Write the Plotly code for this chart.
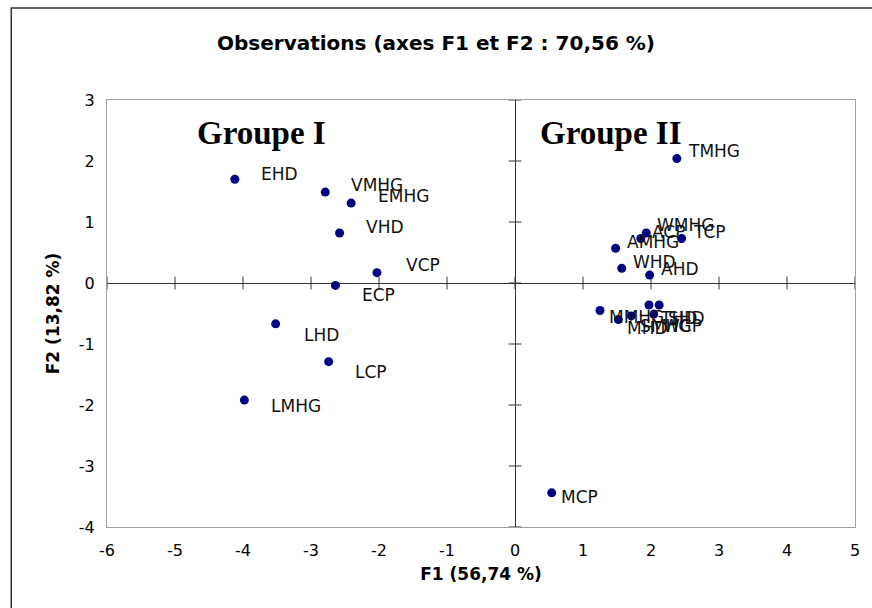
import plotly.graph_objects as go

# Observation scores on the first two factorial axes
names = ["EHD", "VMHG", "EMHG", "VHD", "VCP", "ECP", "LHD", "LCP", "LMHG",
         "TMHG", "WMHG", "ACP", "TCP", "AMHG", "WHD", "AHD",
         "MMHG", "THD", "SHD", "MHD", "SMHG", "WCP", "MCP"]
f1 = [-4.12, -2.79, -2.41, -2.58, -2.03, -2.64, -3.52, -2.74, -3.98,
      2.38, 1.93, 1.85, 2.45, 1.48, 1.57, 1.98,
      1.25, 1.97, 2.12, 1.52, 1.71, 2.04, 0.54]
f2 = [1.70, 1.49, 1.31, 0.82, 0.17, -0.04, -0.67, -1.29, -1.92,
      2.04, 0.82, 0.73, 0.73, 0.57, 0.24, 0.13,
      -0.45, -0.36, -0.36, -0.60, -0.54, -0.51, -3.44]

x_ticks = list(range(-6, 6))
y_ticks = list(range(-4, 4))
x_tick_text = [str(t) for t in x_ticks]
y_tick_text = [str(t) for t in y_ticks]

# label placement (pixels right / down of each point)
label_shift = {
    "EHD": (24, -5), "VMHG": (24, -7), "EMHG": (25, -7), "VHD": (24, -6),
    "VCP": (27, -8), "ECP": (25, 10), "LHD": (26, 11), "LCP": (24, 10),
    "LMHG": (25, 6), "TMHG": (9, -8), "WMHG": (9, -8), "ACP": (9, -6),
    "TCP": (9, -6), "AMHG": (9, -6), "WHD": (9, -6), "AHD": (9, -6),
    "MMHG": (7, 7), "THD": (9, 13), "SHD": (7, 13), "MHD": (7, 8),
    "SMHG": (7, 10), "WCP": (7, 12), "MCP": (7, 4),
}

fig = go.Figure()

# ticks drawn across the two central axes
fig.add_trace(go.Scatter(
    x=x_ticks, y=[0] * len(x_ticks), mode="markers",
    marker=dict(symbol="line-ns", size=9, line=dict(color="#333333", width=1)),
    hoverinfo="skip", showlegend=False))
fig.add_trace(go.Scatter(
    x=[0] * len(y_ticks), y=y_ticks, mode="markers",
    marker=dict(symbol="line-ew", size=9, line=dict(color="#333333", width=1)),
    hoverinfo="skip", showlegend=False))

fig.add_trace(go.Scatter(
    x=f1, y=f2, mode="markers", text=names,
    marker=dict(color="#000080", size=9, line=dict(width=0)),
    showlegend=False))

label_font = dict(family="DejaVu Sans", size=17, color="#111111")
for n, x, y in zip(names, f1, f2):
    dx, dy = label_shift[n]
    fig.add_annotation(x=x, y=y, text=n, showarrow=False, xanchor="left",
                       yanchor="middle", xshift=dx, yshift=-dy, font=label_font)

group_font = dict(family="Liberation Serif", size=33, color="#000000")
fig.add_annotation(x=-4.70, y=2.46, text="<b>Groupe I</b>", showarrow=False,
                   xanchor="left", yanchor="middle", font=group_font)
fig.add_annotation(x=0.34, y=2.46, text="<b>Groupe II</b>", showarrow=False,
                   xanchor="left", yanchor="middle", font=group_font)

# outer frame of the chart
fig.add_shape(type="rect", xref="paper", yref="paper",
              x0=-0.128, x1=1.06, y0=-0.21, y1=1.2155,
              line=dict(color="#333333", width=1.5), layer="above")

axis_common = dict(showgrid=False, showline=True, mirror=True,
                   linecolor="#a0a0a0", linewidth=1,
                   zeroline=True, zerolinecolor="#333333", zerolinewidth=1,
                   ticks="outside", tickcolor="rgba(0,0,0,0)",
                   tickfont=dict(family="DejaVu Sans", size=16, color="#000000"),
                   title_font=dict(family="DejaVu Sans", size=17, color="#000000"))

fig.update_layout(
    width=872, height=608,
    margin=dict(l=107, r=15, t=100, b=81),
    paper_bgcolor="white", plot_bgcolor="white",
    title=dict(text="<b>Observations (axes F1 et F2 : 70,56 %)</b>",
               x=436 / 872, xref="container", xanchor="center",
               y=1 - 43 / 608, yref="container", yanchor="middle",
               font=dict(family="DejaVu Sans", size=20, color="#000000")),
    xaxis=dict(range=[-6, 5], tickvals=x_ticks, ticktext=x_tick_text, ticklen=9,
               title=dict(text="<b>F1 (56,74 %)</b>", standoff=8), **axis_common),
    yaxis=dict(range=[-4, 3], tickvals=y_ticks, ticktext=y_tick_text, ticklen=8,
               title=dict(text="<b>F2 (13,82 %)</b>", standoff=14), **axis_common),
)

fig.write_html("out.html")
